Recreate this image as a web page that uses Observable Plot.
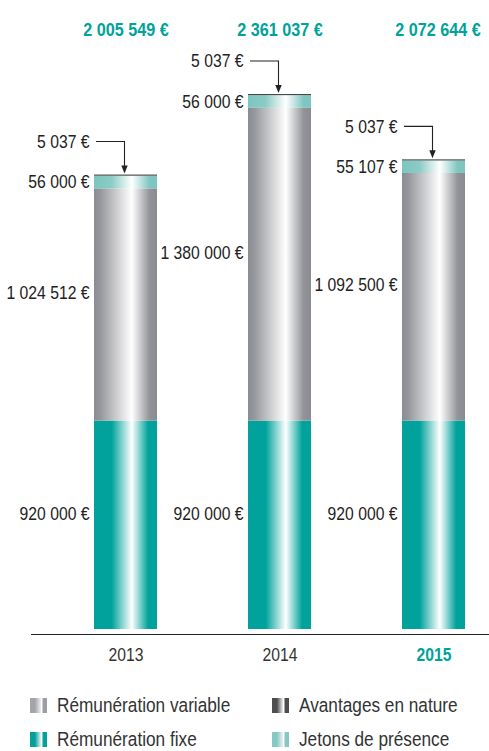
<!DOCTYPE html>
<html>
<head>
<meta charset="utf-8">
<script src="https://cdn.jsdelivr.net/npm/d3@7"></script>
<script src="https://cdn.jsdelivr.net/npm/@observablehq/plot@0.6"></script>
<style>
  body { margin: 0; background: #fff; font-family: "Liberation Sans", Arial, sans-serif; }
  #chart svg { display: block; }
  #legend { position: relative; width: 489px; height: 71px; color: #333; font-size: 20.5px; }
  .item { position: absolute; display: flex; align-items: center; height: 30px; white-space: nowrap; }
  .item svg { margin-right: 10px; display: block; flex: none; }
  .item span { display: inline-block; transform: scaleX(0.84); transform-origin: left center; }
</style>
</head>
<body>
<div id="chart"></div>
<div id="legend"></div>
<script>
// ---- Data ----
const years = ["2013", "2014", "2015"];
const categories = ["Rémunération fixe", "Rémunération variable", "Jetons de présence", "Avantages en nature"];
const fixe = [920000, 920000, 920000];
const variable = [1024512, 1380000, 1092500];
const jetons = [56000, 56000, 55107];
const avantages = [5037, 5037, 5037];
const totals = [2005549, 2361037, 2072644];
const highlightYear = "2015";

// ---- Styling ----
const teal = "#00a29b";
const font = '"Liberation Sans", Arial, sans-serif';
const narrow = 0.85;
const gradients = {
  "Rémunération fixe": {id: "gFixe", stops: [[0, "#00a29b"], [0.28, "#00a29b"], [0.6, "#ffffff"], [0.86, "#00a29b"], [1, "#00a29b"]], swatch: ["#00a29b", "#00a29b"]},
  "Rémunération variable": {id: "gVar", stops: [[0, "#8b8c91"], [0.1, "#96979c"], [0.6, "#ffffff"], [0.88, "#939499"], [1, "#8a8b90"]], swatch: ["#a4a5a9", "#9d9ea2"]},
  "Jetons de présence": {id: "gJet", stops: [[0, "#7cc5c0"], [0.28, "#8ccbc6"], [0.6, "#ffffff"], [0.88, "#80c6c1"], [1, "#7cc5c0"]], swatch: ["#86c9c4", "#86c9c4"]},
  "Avantages en nature": {id: "gAv", stops: [[0, "#48484b"], [1, "#48484b"]], swatch: ["#4e4e51", "#4e4e51"]}
};

const locale = d3.formatLocale({decimal: ",", thousands: " ", grouping: [3], currency: ["", " €"]});
const fmt = v => locale.format(",")(v) + " €";

// ---- Tables built from arrays ----
const series = [fixe, variable, jetons, avantages];
const rows = [];
years.forEach((y, i) => categories.forEach((c, j) => rows.push({year: y, category: c, value: series[j][i]})));
const info = years.map((y, i) => ({
  year: y,
  fixe: fixe[i], variable: variable[i], jetons: jetons[i], avantages: avantages[i], total: totals[i]
}));

const xRange = [94, 465];
const padIn = 0.591;
const bw = (xRange[1] - xRange[0]) / (years.length - padIn) * (1 - padIn);
const labelDx = -(bw / 2 + 5);

// gradient defs as a render mark
const defsMark = () => {
  const defs = d3.create("svg:defs");
  for (const c of categories) {
    const g = gradients[c];
    const lg = defs.append("linearGradient").attr("id", g.id).attr("x1", 0).attr("x2", 1).attr("y1", 0).attr("y2", 0);
    g.stops.forEach(([o, col]) => lg.append("stop").attr("offset", o).attr("stop-color", col));
  }
  return defs.node();
};

// arrows from the "avantages" labels to the bar tops
const arrowMark = (index, scales) => {
  const {x, y} = scales;
  const g = d3.create("svg:g").attr("stroke", "#222").attr("stroke-width", 1.1).attr("fill", "none");
  info.forEach(d => {
    const x0 = x(d.year), w = x.bandwidth(), top = y(d.total);
    const cx = x0 + w / 2 - 1, ly = top - 33;
    g.append("path").attr("d", `M${x0 + 2},${ly}H${cx}V${top - 6}`);
    g.append("path").attr("d", `M${cx - 3.2},${top - 9}L${cx},${top - 1}L${cx + 3.2},${top - 9}Z`).attr("fill", "#222").attr("stroke", "none");
  });
  return g.node();
};

const isHi = d => d.year === highlightYear;

const plot = Plot.plot({
  width: 489,
  height: 680,
  marginLeft: 31, marginRight: 0, marginTop: 0, marginBottom: 0,
  style: {fontFamily: font, fontSize: "18.5px", color: "#333", background: "#fff"},
  x: {domain: years, range: xRange, paddingInner: padIn, paddingOuter: 0, axis: null},
  y: {domain: [0, d3.max(totals)], range: [629, 94], axis: null},
  color: {domain: categories, range: categories.map(c => `url(#${gradients[c].id})`)},
  marks: [
    defsMark,
    Plot.barY(rows, {x: "year", y: "value", fill: "category", order: categories}),
    Plot.ruleY([0], {dy: 5, stroke: "#222", strokeWidth: 1.2}),
    // totals
    Plot.text(info.filter(d => !isHi(d)), {x: "year", frameAnchor: "top", dy: 22, text: d => fmt(d.total), fill: teal, fontWeight: "bold", fontSize: 19}),
    Plot.text(info.filter(isHi), {x: "year", frameAnchor: "top", dy: 22, dx: 4, text: d => fmt(d.total), fill: teal, fontWeight: "bold", fontSize: 19}),
    // segment labels
    Plot.text(info, {x: "year", y: d => d.fixe / 2, dy: -11, dx: labelDx, textAnchor: "end", text: d => fmt(d.fixe), fill: "#222"}),
    Plot.text(info, {x: "year", y: d => d.fixe + d.variable / 2, dy: -12, dx: labelDx, textAnchor: "end", text: d => fmt(d.variable), fill: "#222"}),
    Plot.text(info, {x: "year", y: d => d.fixe + d.variable + d.jetons / 2, dx: labelDx, textAnchor: "end", text: d => fmt(d.jetons), fill: "#222"}),
    Plot.text(info, {x: "year", y: "total", dy: -33, dx: labelDx, textAnchor: "end", text: d => fmt(d.avantages), fill: "#222"}),
    arrowMark,
    // year labels
    Plot.text(info.filter(d => !isHi(d)), {x: "year", y: 0, dy: 26, text: "year", fill: "#333", fontSize: 18.5}),
    Plot.text(info.filter(isHi), {x: "year", y: 0, dy: 26, text: "year", fill: teal, fontWeight: "bold", fontSize: 18.5})
  ]
});
document.getElementById("chart").appendChild(plot);

// condensed look: horizontally compress every text around its own anchor point
d3.select(plot).selectAll("text").each(function() {
  const x0 = +(this.getAttribute("x") || 0);
  const t = this.getAttribute("transform") || "";
  this.setAttribute("transform", `${t} translate(${x0},0) scale(${narrow},1) translate(${-x0},0)`);
});

// ---- Legend ----
const legendPos = {
  "Rémunération variable": [30, 10],
  "Avantages en nature": [272, 10],
  "Rémunération fixe": [30, 44],
  "Jetons de présence": [272, 44]
};
const legend = d3.select("#legend");
for (const c of ["Rémunération variable", "Avantages en nature", "Rémunération fixe", "Jetons de présence"]) {
  const [l, t] = legendPos[c];
  const item = legend.append("div").attr("class", "item").style("left", l + "px").style("top", t + "px");
  const sw = item.append("svg").attr("width", 17).attr("height", 15);
  const gid = "sw" + gradients[c].id;
  const lg = sw.append("defs").append("linearGradient").attr("id", gid);
  const [c1, c2] = gradients[c].swatch;
  lg.append("stop").attr("offset", 0).attr("stop-color", c1);
  lg.append("stop").attr("offset", 0.45).attr("stop-color", c1);
  lg.append("stop").attr("offset", 1).attr("stop-color", "#eef2f2");
  sw.append("rect").attr("x", 0).attr("y", 0).attr("width", 11).attr("height", 15).attr("fill", `url(#${gid})`);
  sw.append("rect").attr("x", 12.5).attr("y", 0).attr("width", 4.5).attr("height", 15).attr("fill", c2);
  item.append("span").text(c);
}
</script>
</body>
</html>
